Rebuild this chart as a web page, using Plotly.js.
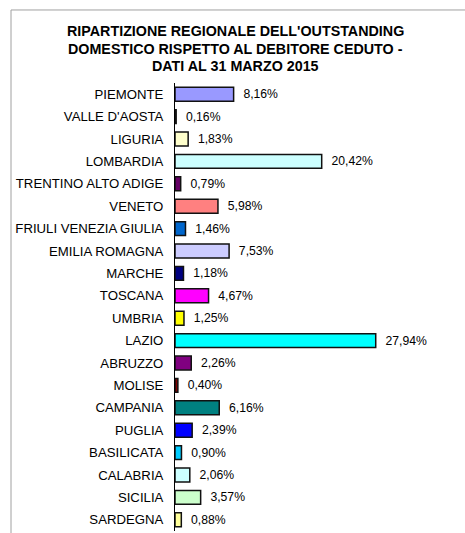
<!DOCTYPE html>
<html>
<head>
<meta charset="utf-8">
<script src="https://cdn.plot.ly/plotly-3.0.1.min.js"></script>
<style>html,body{margin:0;padding:0;background:#fff;}#chart{width:465px;height:533px;}</style>
</head>
<body>
<div id="chart"></div>
<script>
const titleLines = ["RIPARTIZIONE REGIONALE DELL'OUTSTANDING", "DOMESTICO RISPETTO AL DEBITORE CEDUTO -", "DATI AL 31 MARZO 2015"];
const regions = ["PIEMONTE","VALLE D'AOSTA","LIGURIA","LOMBARDIA","TRENTINO ALTO ADIGE","VENETO","FRIULI VENEZIA GIULIA","EMILIA ROMAGNA","MARCHE","TOSCANA","UMBRIA","LAZIO","ABRUZZO","MOLISE","CAMPANIA","PUGLIA","BASILICATA","CALABRIA","SICILIA","SARDEGNA"];
const shares = [8.16,0.16,1.83,20.42,0.79,5.98,1.46,7.53,1.18,4.67,1.25,27.94,2.26,0.40,6.16,2.39,0.90,2.06,3.57,0.88];
const labels = ["8,16%","0,16%","1,83%","20,42%","0,79%","5,98%","1,46%","7,53%","1,18%","4,67%","1,25%","27,94%","2,26%","0,40%","6,16%","2,39%","0,90%","2,06%","3,57%","0,88%"];
const colors = ["#9999FF","#000000","#FFFFCC","#CCFFFF","#660066","#FF8080","#0066CC","#CCCCFF","#000080","#FF00FF","#FFFF00","#00FFFF","#800080","#800000","#008080","#0000FF","#00CCFF","#CCFFFF","#CCFFCC","#FFFF99"];

const FONT = 'Liberation Sans, Arial, sans-serif';

const trace = {
  type: 'bar',
  orientation: 'h',
  y: regions,
  x: shares,
  text: labels.map(l => '  ' + l),
  textposition: 'outside',
  cliponaxis: false,
  textfont: {family: FONT, size: 12.3, color: '#000'},
  marker: {color: colors, line: {color: '#111', width: 1.5}},
  width: 0.62,
  hoverinfo: 'none'
};

const titleY = [1.115, 1.0766, 1.0379];
const annotations = titleLines.map((t, i) => ({
  text: '<b>' + t + '</b>',
  xref: 'paper', yref: 'paper',
  x: 0.2198, y: titleY[i],
  xanchor: 'center', yanchor: 'middle',
  showarrow: false,
  font: {family: FONT, size: 14.3, color: '#000'}
}));

const layout = {
  width: 465, height: 533,
  margin: {l: 175, r: 17, t: 83, b: 2},
  paper_bgcolor: '#fff', plot_bgcolor: '#fff',
  showlegend: false,
  font: {family: FONT, color: '#000'},
  annotations: annotations,
  xaxis: {range: [0, 38], visible: false, fixedrange: true},
  yaxis: {
    autorange: 'reversed',
    showline: true, linecolor: '#000', linewidth: 1,
    showgrid: false, zeroline: false,
    ticks: '', ticklabelstandoff: 8,
    tickfont: {family: FONT, size: 13.2, color: '#000'}
  },
  shapes: [
    {type: 'line', xref: 'paper', yref: 'paper', x0: -0.6007, x1: 1.2, y0: 1.163, y1: 1.163, line: {color: '#A0A0A0', width: 1}},
    {type: 'line', xref: 'paper', yref: 'paper', x0: -0.6007, x1: -0.6007, y0: 1.163, y1: -0.1, line: {color: '#A0A0A0', width: 1}}
  ]
};

Plotly.newPlot('chart', [trace], layout, {displayModeBar: false, staticPlot: true});
</script>
</body>
</html>
